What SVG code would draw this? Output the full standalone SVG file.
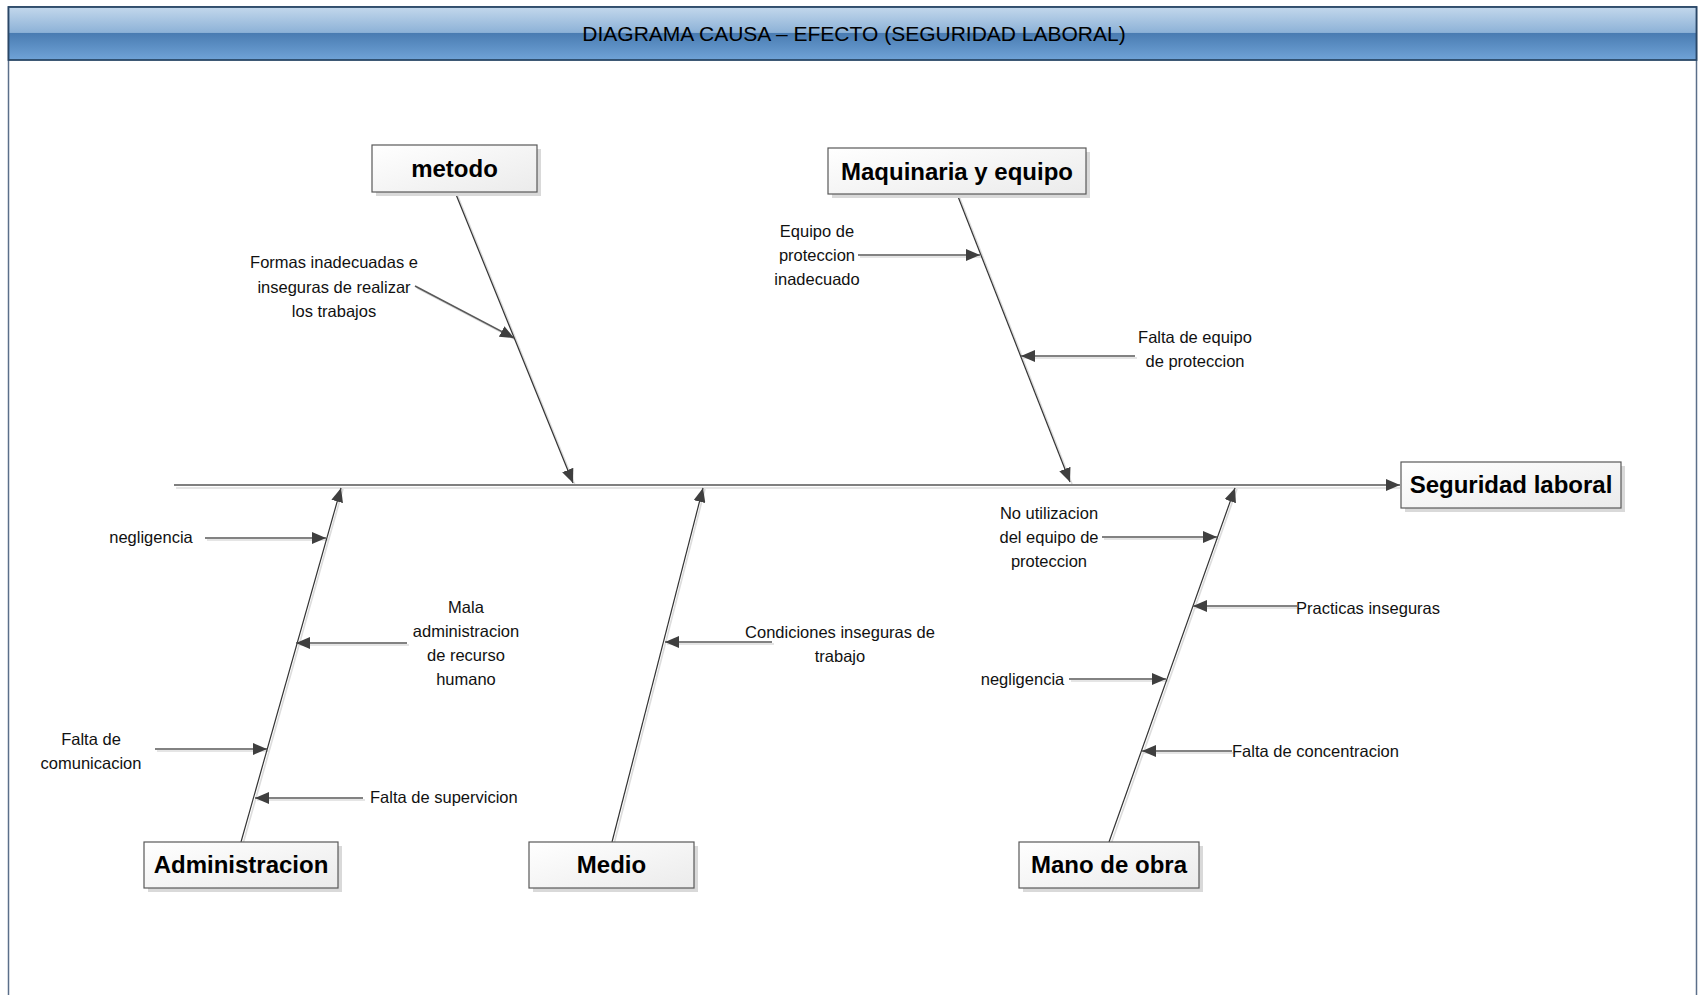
<svg xmlns="http://www.w3.org/2000/svg" width="1701" height="995" viewBox="0 0 1701 995">
<defs>
<linearGradient id="hdr" x1="0" y1="0" x2="0" y2="1">
<stop offset="0" stop-color="#c3d8ec"/>
<stop offset="0.48" stop-color="#8db2d7"/>
<stop offset="0.5" stop-color="#4a7cb2"/>
<stop offset="1" stop-color="#70a3d7"/>
</linearGradient>
<linearGradient id="box" x1="0" y1="0" x2="1" y2="1">
<stop offset="0" stop-color="#ffffff"/>
<stop offset="1" stop-color="#ebebeb"/>
</linearGradient>
<marker id="ah" viewBox="0 0 14 12" refX="14" refY="6" markerWidth="14" markerHeight="12" markerUnits="userSpaceOnUse" orient="auto">
<path d="M0,0 L14,6 L0,12 z" fill="#3f3f3f"/>
</marker>
<marker id="ahs" viewBox="0 0 14 12" refX="14" refY="6" markerWidth="14" markerHeight="12" markerUnits="userSpaceOnUse" orient="auto">
<path d="M0,0 L14,6 L0,12 z" fill="#dcdcdc"/>
</marker>
</defs>
<style>
.lbl{font-family:"Liberation Sans",Arial,sans-serif;font-size:16.5px;fill:#111;}
.mid{text-anchor:middle;}
.node{font-family:"Liberation Sans",Arial,sans-serif;font-size:24px;font-weight:bold;fill:#000;text-anchor:middle;}
.bx{fill:url(#box);stroke:#595959;stroke-width:1.2;}
.sh{fill:#d9d9d9;}
.bone{stroke:#333;stroke-width:1.2;fill:none;marker-end:url(#ah);}
.sub{stroke:#595959;stroke-width:1.6;fill:none;marker-end:url(#ah);}
.shl{stroke:#dcdcdc;stroke-width:1.6;fill:none;}
.title{font-family:"Liberation Sans",Arial,sans-serif;font-size:21px;fill:#000;text-anchor:middle;}
</style>
<rect x="0" y="0" width="1701" height="995" fill="#ffffff"/>
<rect x="8.5" y="7" width="1688" height="1010" fill="#ffffff" stroke="#5b6f8a" stroke-width="1.5"/>
<g id="header">
<rect x="8.5" y="7" width="1688" height="53" fill="url(#hdr)" stroke="#2a4767" stroke-width="1.8"/>
<text class="title" x="854" y="41">DIAGRAMA CAUSA – EFECTO (SEGURIDAD LABORAL)</text>
</g>
<g id="connectors">
<g id="shadows">
<line class="shl" x1="176" y1="488" x2="1400" y2="488"/>
<line class="shl" x1="457" y1="194" x2="575" y2="485"/>
<line class="shl" x1="959" y1="196" x2="1072" y2="484"/>
<line class="shl" x1="243" y1="844" x2="343" y2="489"/>
<line class="shl" x1="614" y1="844" x2="705" y2="489"/>
<line class="shl" x1="1111" y1="844" x2="1237" y2="489"/>
<line class="shl" x1="417" y1="288" x2="516" y2="340"/>
<line class="shl" x1="860" y1="257" x2="982" y2="257"/>
<line class="shl" x1="1137" y1="358" x2="1023" y2="358"/>
<line class="shl" x1="207" y1="540" x2="328" y2="540"/>
<line class="shl" x1="409" y1="645" x2="298" y2="645"/>
<line class="shl" x1="157" y1="751" x2="269" y2="751"/>
<line class="shl" x1="365" y1="800" x2="257" y2="800"/>
<line class="shl" x1="774" y1="644" x2="667" y2="644"/>
<line class="shl" x1="1104" y1="539" x2="1219" y2="539"/>
<line class="shl" x1="1299" y1="608" x2="1195" y2="608"/>
<line class="shl" x1="1071" y1="681" x2="1168" y2="681"/>
<line class="shl" x1="1234" y1="753" x2="1144" y2="753"/>
</g>
<line id="spine" x1="174" y1="485" x2="1400" y2="485" stroke="#7f7f7f" stroke-width="2" marker-end="url(#ah)"/>
<line id="bone-metodo" class="bone" x1="455" y1="192" x2="573" y2="483"/>
<line id="bone-maquinaria" class="bone" x1="957" y1="194" x2="1070" y2="482"/>
<line id="bone-administracion" class="bone" x1="241" y1="842" x2="341" y2="488"/>
<line id="bone-medio" class="bone" x1="612" y1="842" x2="703" y2="488"/>
<line id="bone-mano" class="bone" x1="1109" y1="842" x2="1235" y2="488"/>
<line class="sub" x1="415" y1="286" x2="514" y2="338"/>
<line class="sub" x1="858" y1="255" x2="980" y2="255"/>
<line class="sub" x1="1135" y1="356" x2="1021" y2="356"/>
<line class="sub" x1="205" y1="538" x2="326" y2="538"/>
<line class="sub" x1="407" y1="643" x2="296" y2="643"/>
<line class="sub" x1="155" y1="749" x2="267" y2="749"/>
<line class="sub" x1="363" y1="798" x2="255" y2="798"/>
<line class="sub" x1="772" y1="642" x2="665" y2="642"/>
<line class="sub" x1="1102" y1="537" x2="1217" y2="537"/>
<line class="sub" x1="1297" y1="606" x2="1193" y2="606"/>
<line class="sub" x1="1069" y1="679" x2="1166" y2="679"/>
<line class="sub" x1="1232" y1="751" x2="1142" y2="751"/>
</g>
<g id="node-metodo">
<rect class="sh" x="376" y="149" width="165" height="47"/>
<rect class="bx" x="372" y="145" width="165" height="47"/>
<text class="node" x="454.5" y="177">metodo</text>
</g>
<g id="node-maquinaria">
<rect class="sh" x="832" y="152" width="258" height="46"/>
<rect class="bx" x="828" y="148" width="258" height="46"/>
<text class="node" x="957" y="180" font-size="25">Maquinaria y equipo</text>
</g>
<g id="node-seguridad">
<rect class="sh" x="1405" y="466" width="220" height="46"/>
<rect class="bx" x="1401" y="462" width="220" height="46"/>
<text class="node" x="1511" y="493">Seguridad laboral</text>
</g>
<g id="node-administracion">
<rect class="sh" x="148" y="846" width="194" height="46"/>
<rect class="bx" x="144" y="842" width="194" height="46"/>
<text class="node" x="241" y="873">Administracion</text>
</g>
<g id="node-medio">
<rect class="sh" x="533" y="846" width="165" height="46"/>
<rect class="bx" x="529" y="842" width="165" height="46"/>
<text class="node" x="611.5" y="873">Medio</text>
</g>
<g id="node-mano">
<rect class="sh" x="1023" y="846" width="180" height="46"/>
<rect class="bx" x="1019" y="842" width="180" height="46"/>
<text class="node" x="1109" y="873">Mano de obra</text>
</g>
<g id="causes">
<text class="lbl mid" x="334" y="268">Formas inadecuadas e</text>
<text class="lbl mid" x="334" y="292.5">inseguras de realizar</text>
<text class="lbl mid" x="334" y="317">los trabajos</text>
<text class="lbl mid" x="817" y="237">Equipo de</text>
<text class="lbl mid" x="817" y="261">proteccion</text>
<text class="lbl mid" x="817" y="285">inadecuado</text>
<text class="lbl mid" x="1195" y="343">Falta de equipo</text>
<text class="lbl mid" x="1195" y="367">de proteccion</text>
<text class="lbl mid" x="151" y="543">negligencia</text>
<text class="lbl mid" x="466" y="613">Mala</text>
<text class="lbl mid" x="466" y="637">administracion</text>
<text class="lbl mid" x="466" y="661">de recurso</text>
<text class="lbl mid" x="466" y="685">humano</text>
<text class="lbl mid" x="91" y="745">Falta de</text>
<text class="lbl mid" x="91" y="769">comunicacion</text>
<text class="lbl" x="370" y="803">Falta de supervicion</text>
<text class="lbl mid" x="840" y="638">Condiciones inseguras de</text>
<text class="lbl mid" x="840" y="662">trabajo</text>
<text class="lbl mid" x="1049" y="519">No utilizacion</text>
<text class="lbl mid" x="1049" y="543">del equipo de</text>
<text class="lbl mid" x="1049" y="567">proteccion</text>
<text class="lbl" x="1296" y="614">Practicas inseguras</text>
<text class="lbl mid" x="1022.5" y="685">negligencia</text>
<text class="lbl" x="1232" y="757">Falta de concentracion</text>
</g>
</svg>
